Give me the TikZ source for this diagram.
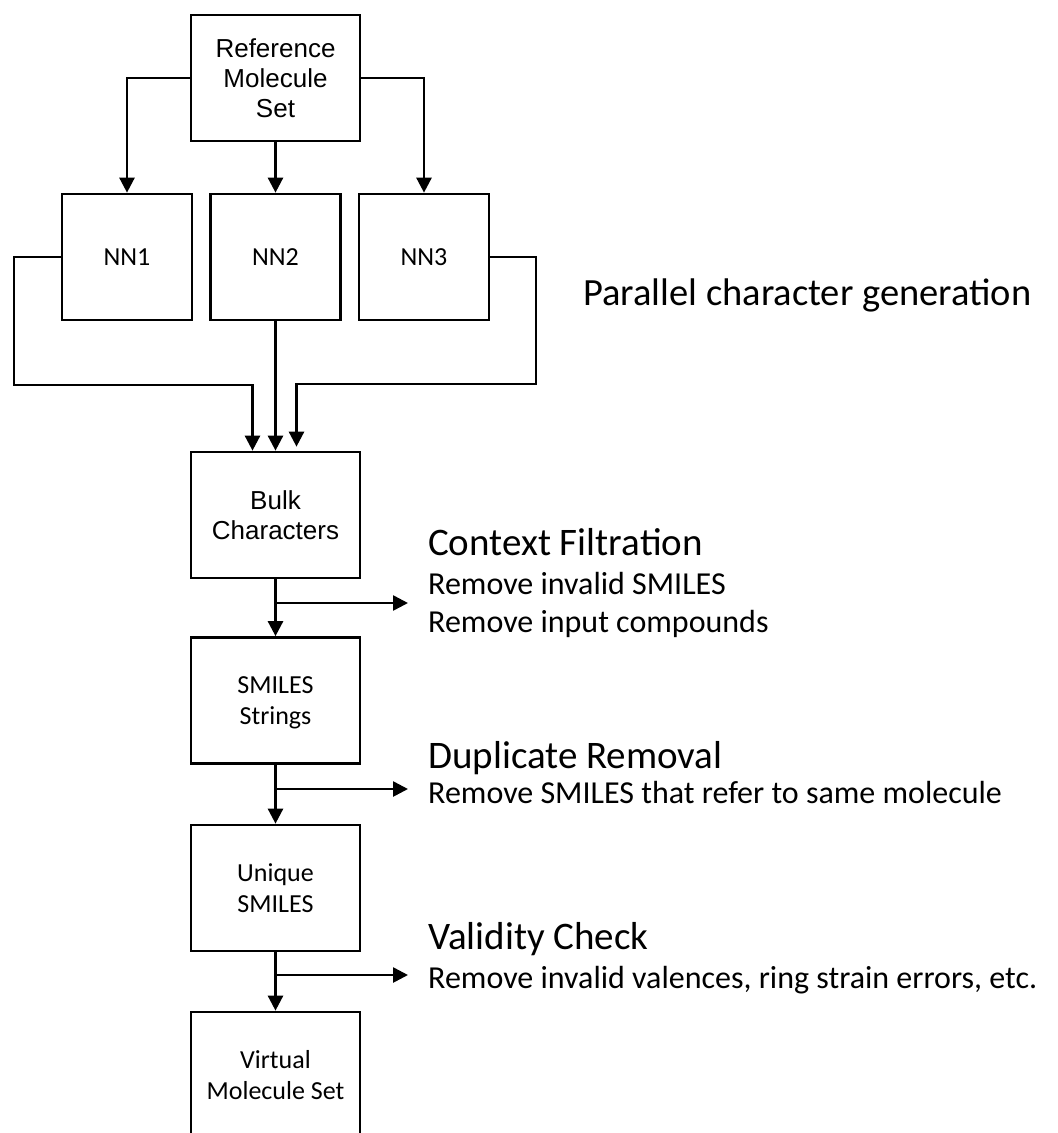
\documentclass[tikz,border=0pt]{standalone}
\usepackage{fontspec}
\setmainfont{Carlito}
\newfontfamily\arialfont{Liberation Sans}
\usetikzlibrary{arrows.meta,positioning}

\tikzset{
  box/.style={draw, line width=2.7pt, minimum width=169pt, minimum height=126pt,
    inner sep=0pt, align=center, text depth=0pt, font=\fontsize{26}{31}\selectfont},
  nnbox/.style={box, minimum width=130pt},
  arialbox/.style={box, font=\arialfont\fontsize{26}{30}\selectfont},
  link/.style={line width=2.6pt, -{Triangle[length=15pt,width=15pt]}},
  heading/.style={anchor=base west, inner sep=0pt, font=\fontsize{39}{39}\selectfont},
  note/.style={anchor=base west, inner sep=0pt, font=\fontsize{32}{32}\selectfont},
}

\begin{document}
\begin{tikzpicture}[x=1pt, y=-1pt]
    \useasboundingbox (0,0) rectangle (1058,1133);
    \clip (0,0) rectangle (1058,1133);

    % input set
    \node[arialbox] (ref) at (275.5,78) {Reference\\Molecule\\Set};

    % networks
    \node[nnbox] (nn1) at (127,257) {NN1};
    \node[nnbox] (nn2) at (275.5,257) {NN2};
    \node[nnbox] (nn3) at (424,257) {NN3};
    \node[anchor=base west, inner sep=0pt, font=\fontsize{38.5}{38.5}\selectfont] (partext) at (583,305) {Parallel character generation};

    \draw[link] (ref.west) -| (nn1.north);
    \draw[link] (ref.south) -- (nn2.north);
    \draw[link] (ref.east) -| (nn3.north);

    % pipeline
    \node[arialbox] (bulk) at (275.5,515) {Bulk\\Characters};
    \node[box] (smiles) at (275.5,700.5) {SMILES\\Strings};
    \node[box] (unique) at (275.5,888) {Unique\\SMILES};
    \node[box] (virtual) at (275.5,1075) {Virtual\\Molecule Set};

    % merge into bulk
    \coordinate (nnleft) at (14,385);
    \coordinate (nnright) at (536,384);
    \coordinate (leftin) at ([xshift=-23pt]bulk.north);
    \coordinate (rightin) at ([xshift=21pt,yshift=4pt]bulk.north);
    \draw[link] (nn1.west) -| (nnleft) -| (leftin);
    \draw[link] (nn2.south) -- (bulk.north);
    \draw[link] (nn3.east) -| (nnright) -| (rightin);

    \draw[link] (bulk) -- (smiles);
    \draw[link] (smiles) -- (unique);
    \draw[link] (unique) -- (virtual);

    % filters
    \coordinate (ctxtip) at (408,603);
    \coordinate (duptip) at (408,789);
    \coordinate (valtip) at (408,975);
    \draw[link] (bulk.south |- ctxtip) -- (ctxtip);
    \draw[link] (smiles.south |- duptip) -- (duptip);
    \draw[link] (unique.south |- valtip) -- (valtip);

    \node[heading] (ctxhead) at (428,555) {Context Filtration};
    \node[note] (ctxnote1) at (428,594) {Remove invalid SMILES};
    \node[note] (ctxnote2) at (428,632) {Remove input compounds};

    \node[heading] (duphead) at (428,768) {Duplicate Removal};
    \node[note] (dupnote) at (428,803) {Remove SMILES that refer to same molecule};

    \node[heading] (valhead) at (428,949) {Validity Check};
    \node[note] (valnote) at (428,988) {Remove invalid valences, ring strain errors, etc.};
\end{tikzpicture}
\end{document}
